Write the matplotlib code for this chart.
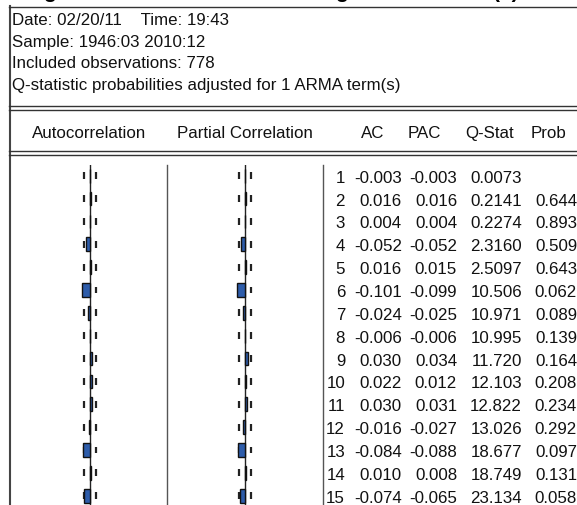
import numpy as np
import matplotlib
matplotlib.use("Agg")
import matplotlib.pyplot as plt
from matplotlib import transforms

# correlogram values (EViews output)
lags = list(range(1, 16))
ac = [-0.003, 0.016, 0.004, -0.052, 0.016, -0.101, -0.024, -0.006,
      0.030, 0.022, 0.030, -0.016, -0.084, 0.010, -0.074]
pac = [-0.003, 0.016, 0.004, -0.052, 0.015, -0.099, -0.025, -0.006,
       0.034, 0.012, 0.031, -0.027, -0.088, 0.008, -0.065]
qstat = [0.0073, 0.2141, 0.2274, 2.3160, 2.5097, 10.506, 10.971, 10.995,
         11.720, 12.103, 12.822, 13.026, 18.677, 18.749, 23.134]
prob = [None, 0.644, 0.893, 0.509, 0.643, 0.062, 0.089, 0.139,
        0.164, 0.208, 0.234, 0.292, 0.097, 0.131, 0.058]
n_obs = 778
header_lines = ["Date: 02/20/11    Time: 19:43",
                "Sample: 1946:03 2010:12",
                "Included observations: 778",
                "Q-statistic probabilities adjusted for 1 ARMA term(s)"]
col_titles = ["Autocorrelation", "Partial Correlation", "AC", "PAC", "Q-Stat", "Prob"]

W, H = 577, 506
plt.rcParams['font.family'] = ['Liberation Sans', 'DejaVu Sans']
FS = 12.2
fig = plt.figure(figsize=(W / 100, H / 100), dpi=100)

# background layer in pixel coords
bg = fig.add_axes([0, 0, 1, 1])
bg.set_xlim(0, W)
bg.set_ylim(H, 0)
bg.axis('off')

# title row above is cropped off, only descenders show
for x, s in [(50, "g"), (341, "g"), (506, "(a)")]:
    bg.text(x, -2.2, s, fontsize=15, fontweight='bold', ha='center', va='baseline')

line_kw = dict(color='#333333', lw=1.0)
bg.plot([9.5, 9.5], [7, H], color='#444444', lw=1.5)
bg.plot([9, W], [7.5, 7.5], **line_kw)
for y in [107, 110.5, 152, 155.5]:
    bg.plot([9, W], [y, y], **line_kw)

for i, s in enumerate(header_lines):
    bg.text(12, 25 + 21.5 * i, s, fontsize=FS, ha='left', va='baseline', color='#111111')

for x, s in zip([89, 245, 373, 424, 490, 549], col_titles):
    bg.text(x, 138, s, fontsize=FS, ha='center', va='baseline', color='#111111')

bg.plot([167, 167], [166, H], color='#555555', lw=1.0)
bg.plot([323, 323], [166, H], color='#555555', lw=1.0)

# rows: lag 1 at y=176.7 px, step 22.86 px
row_step = 22.86
top_px, y0 = 166, 176.7
lag_top = 1 + (top_px - y0) / row_step
lag_bot = 1 + (H - y0) / row_step
ax_h = (H - top_px) / H
scale = 80.0  # px per unit correlation
band = 2 / np.sqrt(n_obs)


def corr_panel(left_px, right_px, zero_px, vals):
    ax = fig.add_axes([left_px / W, 0, (right_px - left_px) / W, ax_h])
    ax.set_xlim(-(zero_px - left_px) / scale, (right_px - zero_px) / scale)
    ax.set_ylim(lag_bot, lag_top)
    ax.axis('off')
    ax.axvline(0, color='#222222', lw=1.0)
    ax.barh(lags, vals, height=0.6, left=0, color='#2d5caa',
            edgecolor='#111111', linewidth=1.0, zorder=3)
    for lg in lags:
        for b in (-band, band):
            ax.plot([b, b], [lg - 0.15, lg + 0.15], color='#222222', lw=1.6,
                    solid_capstyle='butt')
    return ax


corr_panel(10, 167, 90, ac)
corr_panel(167, 323, 245, pac)

tab = fig.add_axes([323 / W, 0, (W - 323) / W, ax_h])
tab.set_xlim(323, W)
tab.set_ylim(lag_bot, lag_top)
tab.axis('off')
tr = transforms.offset_copy(tab.transData, fig=fig, x=0, y=-6.0, units='dots')


def fmt_q(q):
    return "%.4f" % q if q < 10 else "%.3f" % q


for i, lg in enumerate(lags):
    row = [(345, str(lg)), (402, "%.3f" % ac[i]), (457, "%.3f" % pac[i]),
           (522, fmt_q(qstat[i]))]
    if prob[i] is not None:
        row.append((577, "%.3f" % prob[i]))
    for x, s in row:
        tab.text(x, lg, s, fontsize=FS, ha='right', va='baseline',
                 transform=tr, clip_on=False, color='#111111')

fig.savefig("out.png", dpi=100)
